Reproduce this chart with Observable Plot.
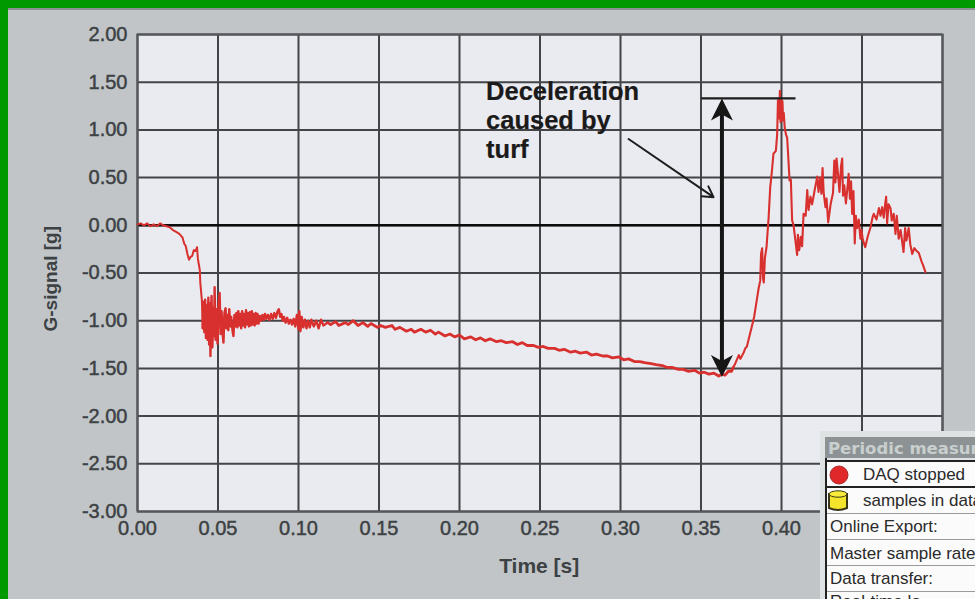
<!DOCTYPE html>
<html>
<head>
<meta charset="utf-8">
<script src="https://cdn.jsdelivr.net/npm/d3@7"></script>
<script src="https://cdn.jsdelivr.net/npm/@observablehq/plot@0.6"></script>
<style>
html,body{margin:0;padding:0;width:975px;height:599px;overflow:hidden;background:#c1c5c7;}
#chart{position:absolute;left:0;top:0;}
#chart svg{display:block;background:transparent;}
#chart g[aria-label$="tick label"]{stroke:#3c4144;stroke-width:.45px;}
.edge{position:absolute;background:#009900;}
#shade{position:absolute;left:8px;top:8px;right:0;height:2px;background:#8e9194;}
#panel{position:absolute;left:820px;top:431px;width:155px;height:168px;overflow:hidden;background:#dfe2e3;font:17px "Liberation Sans",Arial,sans-serif;color:#2a2a2a;white-space:nowrap;}
#panel .title{position:absolute;left:5px;top:6px;width:150px;height:21px;background:#8d9394;color:#c9cfcf;font:bold 16.5px "DejaVu Sans",sans-serif;line-height:24px;padding-left:3px;box-sizing:border-box;overflow:hidden;}
#panel .row{position:absolute;left:6px;width:149px;background:#fbfbfb;border-bottom:1px solid #9a9a9a;padding-left:4px;box-sizing:border-box;overflow:hidden;}
#panel .rule{position:absolute;left:5px;top:27px;width:150px;height:141px;border-left:2px solid #222;box-sizing:border-box;}
#panel svg{position:absolute;}
</style>
</head>
<body>
<div id="chart"></div>
<div class="edge" style="left:0;top:0;width:975px;height:8px"></div>
<div class="edge" style="left:0;top:0;width:8px;height:599px"></div>
<div id="shade"></div>
<div id="panel">
  <div class="title">Periodic measur</div>
  <div class="row" style="top:29px;height:28px;padding-left:37px;border:2px solid #222;border-left:none;border-right:none;line-height:26px">DAQ stopped</div>
  <div class="row" style="top:57px;height:26px;padding-left:37px;line-height:26px">samples in data</div>
  <div class="row" style="top:83px;height:26px;line-height:26px">Online Export:</div>
  <div class="row" style="top:109px;height:26px;line-height:28px">Master sample rate</div>
  <div class="row" style="top:135px;height:26px;line-height:26px">Data transfer:</div>
  <div class="row" style="top:161px;height:7px;line-height:19px;border:none">Real-time lo</div>
  <div class="rule"></div>
  <svg style="left:8px;top:33px" width="24" height="22"><circle cx="11" cy="11" r="9" fill="#e0272a" stroke="#a92a2a"/></svg>
  <svg style="left:6px;top:58px" width="24" height="24"><path d="M3 5h18v14q-9 4-18 0z" fill="#f2e52c" stroke="#38361a" stroke-width="2"/><ellipse cx="12" cy="5" rx="9" ry="3.2" fill="#f7ec3a" stroke="#38361a"/></svg>
</div>
<script>
const timeTicks = [0, .05, .10, .15, .20, .25, .30, .35, .40, .45, .50];
const timeLabels = [0, .05, .10, .15, .20, .25, .30, .35, .40];
const gTicks = [2, 1.5, 1, .5, 0, -.5, -1, -1.5, -2, -2.5, -3];

// [time s, G-signal g]
const onset = [[0,.01],[.002,.02],[.004,0],[.006,.02],[.008,-.01],[.010,.01],[.012,-.01],[.014,.02],[.016,0],[.018,-.01],[.020,-.02],[.022,-.05],[.024,-.07],[.026,-.09],[.028,-.13],[.029,-.19],[.030,-.22],[.031,-.30],[.032,-.36],[.033,-.33],[.034,-.32],[.035,-.26],[.036,-.27],[.037,-.23],[.0375,-.35],[.038,-.40],[.0387,-.47],[.039,-.60],[.040,-.79],[.0405,-1.08]];
const ringing = [[.0405,-1.08],[.0410,-.80],[.0415,-1.12],[.0420,-.78],[.0425,-1.18],[.0430,-.84],[.0435,-1.20],[.0440,-.76],[.0445,-1.25],[.0450,-.82],[.0453,-1.37],[.0460,-.74],[.0465,-1.28],[.0472,-.86],[.0476,-1.16],[.0479,-.65],[.0485,-1.20],[.0490,-.88],[.0497,-1.24],[.0503,-.84],[.0510,-.71],[.0516,-1.14],[.0522,-.90],[.0528,-1.12],[.0534,-1.23],[.0540,-.92],[.0547,-.87],[.0552,-1.08],[.0558,-.94],[.0564,-1.10],[.0570,-.88],[.0576,-1.06],[.0582,-.96],[.0590,-1.10],[.0596,-1.16],[.0602,-.94],[.0608,-1.06],[.0614,-.92],[.0620,-1.07],[.0626,-.90],[.0632,-1.05],[.0638,-.93],[.0644,-1.08],[.0650,-.90],[.0656,-1.05],[.0662,-.93],[.0668,-1.07],[.0674,-.89],[.0680,-1.04],[.0686,-.92],[.0692,-1.06],[.0698,-.91],[.0704,-1.05],[.0710,-.90],[.0716,-1.04],[.0722,-.93],[.0728,-1.05],[.0734,-.92],[.0740,-1.03],[.0746,-.93],[.0752,-1.03],[.0760,-.95],[.0768,-1.00],[.0776,-.94],[.0784,-.99],[.0792,-.93],[.0800,-.98],[.0810,-.94],[.0820,-.99],[.0830,-.93],[.0840,-.98],[.0850,-.92],[.0860,-.97],[.0870,-.90],[.0878,-.88],[.0886,-.96],[.0894,-.93],[.0902,-1.00],[.0910,-.96],[.0920,-1.02],[.0930,-.97],[.0940,-1.03],[.0950,-.99],[.0960,-1.04],[.0970,-.98],[.0980,-1.06],[.0990,-.94],[.1000,-1.09],[.1005,-.90],[.1012,-1.11],[.1020,-.96],[.1030,-1.07],[.1040,-.99],[.1050,-1.08],[.1060,-1.00],[.1070,-1.07],[.1080,-.99],[.1095,-1.06],[.1110,-1.00],[.1125,-1.08],[.1140,-.99],[.1155,-1.05],[.118,-1.02]];
const decay = [[.118,-1.02],[.120,-1.04],[.123,-1.01],[.125,-1.05],[.129,-1.02],[.131,-1.04],[.134,-1.00],[.137,-1.05],[.140,-1.02],[.143,-1.06],[.145,-1.03],[.149,-1.07],[.151,-1.05],[.154,-1.07],[.158,-1.05],[.160,-1.09],[.163,-1.07],[.167,-1.11],[.170,-1.09],[.172,-1.12],[.176,-1.09],[.179,-1.12],[.182,-1.10],[.185,-1.14],[.187,-1.12],[.191,-1.16],[.194,-1.14],[.197,-1.17],[.200,-1.15],[.203,-1.19],[.207,-1.17],[.210,-1.20],[.213,-1.18],[.216,-1.21],[.219,-1.19],[.223,-1.22],[.226,-1.21],[.229,-1.23],[.233,-1.22],[.236,-1.25],[.239,-1.23],[.242,-1.26],[.246,-1.26],[.249,-1.28],[.252,-1.27],[.255,-1.29],[.259,-1.29],[.262,-1.31],[.265,-1.30],[.269,-1.33],[.272,-1.32],[.275,-1.34],[.279,-1.33],[.282,-1.36],[.285,-1.35],[.289,-1.37],[.292,-1.37],[.295,-1.39],[.299,-1.38],[.302,-1.41],[.305,-1.40],[.309,-1.43],[.312,-1.43],[.315,-1.44],[.319,-1.45],[.322,-1.46],[.326,-1.47],[.329,-1.49],[.332,-1.49],[.336,-1.51],[.339,-1.51],[.342,-1.53],[.346,-1.52],[.349,-1.55],[.352,-1.54],[.355,-1.56],[.358,-1.55],[.361,-1.58],[.363,-1.56],[.365,-1.57],[.367,-1.53],[.369,-1.53],[.370,-1.49]];
const rebound = [[.370,-1.49],[.3715,-1.44],[.3735,-1.36],[.3745,-1.40],[.3766,-1.33],[.3775,-1.29],[.3785,-1.27],[.3797,-1.19],[.381,-1.10],[.383,-.96],[.3845,-.80],[.3858,-.66],[.3868,-.58],[.3873,-.30],[.388,-.24],[.3885,-.55],[.389,-.60],[.3897,-.34],[.3907,-.23],[.392,.08],[.393,.40],[.394,.56],[.395,.75],[.3965,.78],[.3973,.95],[.3978,1.31],[.3985,1.12],[.399,1.41],[.3994,1.08],[.3998,1.32],[.4002,1.10],[.4006,1.30],[.401,1.10],[.4014,1.18],[.402,1.02],[.4028,.95],[.4035,.92],[.404,.78],[.405,.47],[.4058,.48],[.4066,.05],[.4075,.0],[.4085,-.14],[.4097,-.31],[.4102,-.10],[.411,-.26],[.412,-.12],[.4128,-.22],[.4137,.12],[.415,.10],[.416,.37],[.4168,.16],[.418,.30],[.419,.22],[.4205,.36],[.4222,.51],[.423,.35],[.424,.50],[.4248,.33],[.4255,.60],[.4262,.34],[.4273,.19],[.428,.28],[.429,.03],[.4305,.22],[.432,.34],[.4328,.68],[.4335,.45],[.4342,.70],[.4352,.52],[.436,.35],[.437,.62],[.4377,.70],[.4382,.31],[.439,.42],[.44,.23],[.441,.40],[.4417,.54],[.4425,.28],[.4432,.46],[.4439,.12],[.4447,.36],[.4455,-.19],[.4462,.10],[.447,-.03],[.448,.06],[.449,-.14],[.4497,-.05],[.4505,-.15],[.452,-.23],[.4535,-.12],[.4553,-.02],[.4565,.08],[.4573,.12],[.459,.06],[.4605,.18],[.4615,.10],[.4625,.19],[.4635,.08],[.4643,.21],[.465,.30],[.4656,.02],[.4665,.22],[.4677,.18],[.4685,.05],[.4697,.12],[.4708,-.09],[.4716,.10],[.4728,-.14],[.474,-.05],[.475,-.18],[.4758,-.28],[.4768,-.03],[.4776,-.16],[.479,-.03],[.480,-.20],[.4812,-.30],[.4825,-.24],[.484,-.27],[.4853,-.29],[.487,-.38],[.488,-.42],[.4894,-.49]];

// annotation anchors
const arrowTime = [.3630], spanG = [1.33, -1.59];
const capTime = [.3505, .4090];
const pointerFrom = [.3050, .905], pointerTo = [.3578, .295];
const noteLines = ["Deceleration", "caused by", "turf"], noteG = [1.40, 1.10, .79];

const head = {draw(c){c.moveTo(0,0);c.lineTo(11,22);c.lineTo(0,16);c.lineTo(-11,22);c.closePath();}};
const ink = "#3c4144", red = "#d8302e";
const fmt = d => d3.format(".2f")(d).replace("−", "-");
const trace = (rows, w) => Plot.line(rows, {x: d => d[0], y: d => d[1], stroke: red, strokeWidth: w, strokeLinejoin: "round"});
const chart = Plot.plot({
  width: 975, height: 599,
  marginLeft: 137, marginRight: 33, marginTop: 34, marginBottom: 88,
  x: {domain: [0, .5]},
  y: {domain: [-3, 2]},
  style: {background: "transparent", fontFamily: "'Liberation Sans',Arial,sans-serif"},
  marks: [
    Plot.frame({fill: "#eaebf0", stroke: "none"}),
    Plot.ruleX(timeTicks, {stroke: "#434447", strokeWidth: 2}),
    Plot.ruleY(gTicks, {stroke: "#434447", strokeWidth: 2}),
    Plot.ruleY([0], {stroke: "#0c0c0c", strokeWidth: 2.6}),
    Plot.frame({stroke: "#55585b", strokeWidth: 2}),
    Plot.axisX(timeLabels, {tickSize: 0, tickPadding: 9, tickFormat: fmt, fontSize: 20, fill: ink, label: null}),
    Plot.axisY(gTicks, {tickSize: 0, tickPadding: 10, tickFormat: fmt, fontSize: 20, fill: ink, label: null}),
    Plot.text(["Time [s]"], {frameAnchor: "bottom", dy: 61, x: () => .2495, fontSize: 21, fontWeight: "bold", fill: ink}),
    Plot.text(["G-signal [g]"], {frameAnchor: "left", textAnchor: "middle", rotate: -90, dx: -87, y: () => -.56, fontSize: 19, fontWeight: "bold", fill: ink}),
    trace(onset, 2),
    trace(ringing, 2.4),
    trace(decay, 2.8),
    trace(rebound, 2.1),
    Plot.ruleY([spanG[0]], {x1: capTime[0], x2: capTime[1], stroke: "#1d1d1d", strokeWidth: 2.4}),
    Plot.ruleX(arrowTime, {y1: spanG[0] - .1, y2: spanG[1] + .1, stroke: "#161616", strokeWidth: 4}),
    Plot.dot(arrowTime, {x: d => d, y: () => spanG[0], r: 1, symbol: head, fill: "#161616", stroke: "none"}),
    Plot.dot(arrowTime, {x: d => d, y: () => spanG[1], r: 1, symbol: head, rotate: 180, fill: "#161616", stroke: "none"}),
    Plot.arrow([0], {x1: () => pointerFrom[0], y1: () => pointerFrom[1], x2: () => pointerTo[0], y2: () => pointerTo[1], stroke: "#1d1d1d", strokeWidth: 2, headLength: 9, bend: 0}),
    Plot.text(noteLines, {x: () => .2165, y: (d, i) => noteG[i], text: d => d, textAnchor: "start", fontSize: 25.5, fontWeight: "bold", fill: "#1a1a1a", stroke: "#1a1a1a", strokeWidth: .2})
  ]
});
document.getElementById("chart").append(chart);
</script>
</body>
</html>
